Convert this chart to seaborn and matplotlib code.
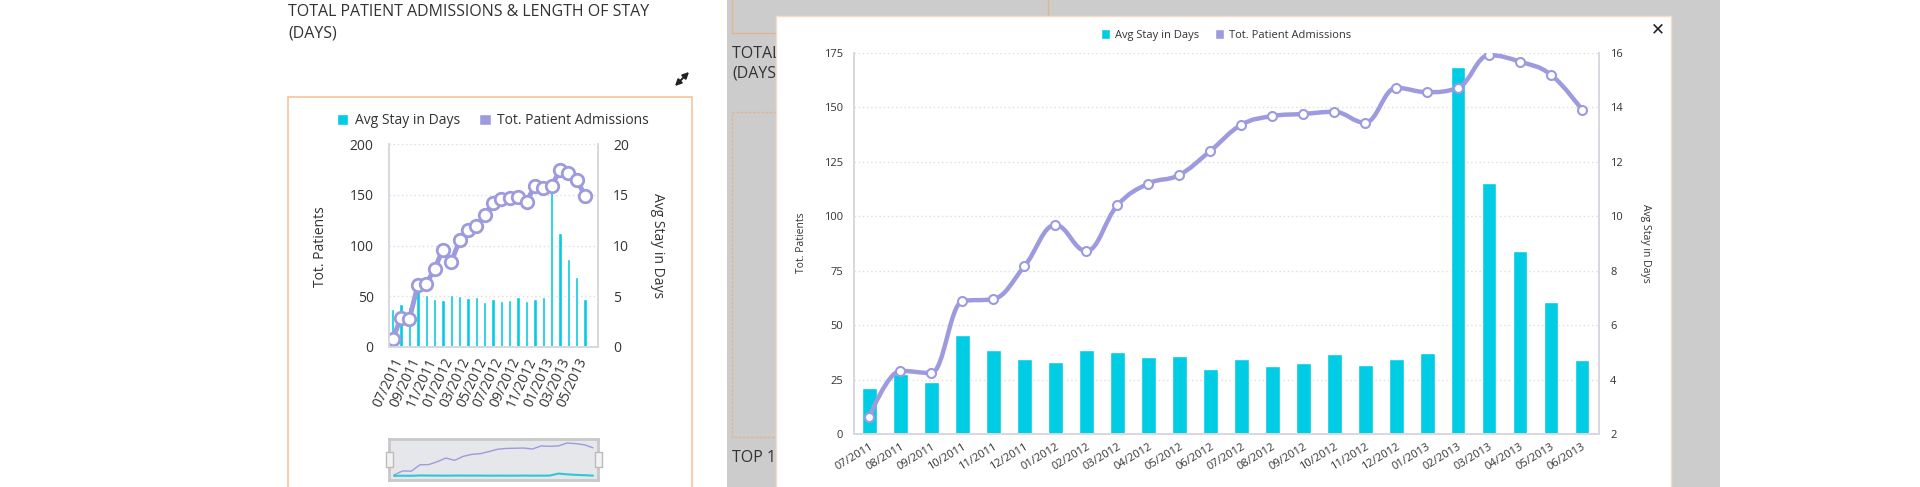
import matplotlib
matplotlib.use("Agg")
import matplotlib.pyplot as plt
import seaborn as sns
import numpy as np
from matplotlib.patches import Rectangle, Patch, PathPatch
from matplotlib.path import Path

# data
months = ["07/2011", "08/2011", "09/2011", "10/2011", "11/2011", "12/2011",
          "01/2012", "02/2012", "03/2012", "04/2012", "05/2012", "06/2012",
          "07/2012", "08/2012", "09/2012", "10/2012", "11/2012", "12/2012",
          "01/2013", "02/2013", "03/2013", "04/2013", "05/2013", "06/2013"]
admissions = [8, 29, 28, 61, 62, 77, 96, 84, 105, 115, 119, 130,
              142, 146, 147, 148, 143, 159, 157, 159, 174, 171, 165, 149]
avg_stay = [3.7, 4.2, 3.9, 5.65, 5.1, 4.75, 4.65, 5.1, 5.0, 4.83, 4.88, 4.4,
            4.77, 4.5, 4.62, 4.94, 4.53, 4.75, 4.97, 15.47, 11.22, 8.71, 6.85, 4.71]

small_left_ticks = [0, 50, 100, 150, 200]
small_right_ticks = [0, 5, 10, 15, 20]
big_left_ticks = [0, 25, 50, 75, 100, 125, 150, 175]
big_right_ticks = [2, 4, 6, 8, 10, 12, 14, 16]

CYAN = "#00cde3"
PURPLE = "#9d9bde"
TXT = "#333333"
W, H = 1920, 487

sns.set_theme(style="white")
plt.rcParams["font.family"] = ["Open Sans", "DejaVu Sans"]

fig = plt.figure(figsize=(W / 100, H / 100), dpi=100)
fig.patch.set_facecolor("white")


def rect(x0, y0, x1, y1):
    return [x0 / W, 1 - y1 / H, (x1 - x0) / W, (y1 - y0) / H]


def fx(x):
    return x / W


def fy(y):
    return 1 - y / H


def add_box(x0, y0, x1, y1, z=1, **kw):
    fig.patches.append(Rectangle((fx(x0), fy(y1)), fx(x1) - fx(x0), fy(y0) - fy(y1),
                                 transform=fig.transFigure, zorder=z, **kw))


def fig_line(xs, ys, z=1.2, **kw):
    fig.lines.append(plt.Line2D([fx(x) for x in xs], [fy(y) for y in ys],
                                transform=fig.transFigure, zorder=z, **kw))


def spline_path(xs, ys):
    # highcharts-style spline control points
    n = len(xs)
    sm, den = 1.5, 2.5
    lc = [(x, y) for x, y in zip(xs, ys)]
    rc = [(x, y) for x, y in zip(xs, ys)]
    for i in range(1, n - 1):
        px, py = xs[i], ys[i]
        lx, ly = xs[i - 1], ys[i - 1]
        nx, ny = xs[i + 1], ys[i + 1]
        lcx, lcy = (sm * px + lx) / den, (sm * py + ly) / den
        rcx, rcy = (sm * px + nx) / den, (sm * py + ny) / den
        corr = (rcy - lcy) * (rcx - px) / (rcx - lcx) + py - rcy
        lcy += corr
        rcy += corr
        if lcy > ly and lcy > py:
            lcy = max(ly, py)
            rcy = 2 * py - lcy
        elif lcy < ly and lcy < py:
            lcy = min(ly, py)
            rcy = 2 * py - lcy
        if rcy > ny and rcy > py:
            rcy = max(ny, py)
            lcy = 2 * py - rcy
        elif rcy < ny and rcy < py:
            rcy = min(ny, py)
            lcy = 2 * py - rcy
        lc[i] = (lcx, lcy)
        rc[i] = (rcx, rcy)
    verts = [(xs[0], ys[0])]
    codes = [Path.MOVETO]
    for i in range(1, n):
        verts += [rc[i - 1], lc[i], (xs[i], ys[i])]
        codes += [Path.CURVE4] * 3
    return Path(verts, codes)


pos = np.arange(len(months))

# ---------------- background page ----------------
add_box(727, 0, 1720, 487, z=0.5, facecolor="#cccccc", edgecolor="none")
TAN = "#e2b48f"
fig_line([732, 732, 776], [0, 33, 33], color=TAN, lw=1)
fig_line([1048, 1048], [0, 16], color=TAN, lw=1)
fig_line([776, 732, 732, 776], [112, 112, 437, 437], color=TAN, lw=1, ls=(0, (2, 1)))
fig.text(fx(732), fy(54), "TOTAL P", fontsize=11.5, color=TXT,
         va="center", zorder=1)
fig.text(fx(732), fy(73), "(DAYS)", fontsize=11.5, color=TXT, va="center", zorder=1)
fig.text(fx(732), fy(458), "TOP 10", fontsize=11.5, color=TXT, va="center", zorder=1)

# modal
add_box(776, 16, 1671, 500, z=2, facecolor="white", edgecolor="#f6dcc6", lw=1)
fig.text(fx(1658), fy(29), "\u2715", fontsize=12, color="#222222",
         ha="center", va="center", zorder=3, family="DejaVu Sans")

# gradient pill
pill = fig.add_axes(rect(1709, 300, 1717, 337))
pill.imshow(np.linspace(0, 1, 50).reshape(-1, 1), aspect="auto",
            cmap=matplotlib.colors.LinearSegmentedColormap.from_list(
                "pill", ["#3aa3df", "#a27fc8", "#ef7aa6", "#f9c94b"]))
pill.axis("off")

# ---------------- left panel ----------------
fig.text(fx(288), fy(12), "TOTAL PATIENT ADMISSIONS & LENGTH OF STAY",
         fontsize=11.5, color=TXT, va="center")
fig.text(fx(288), fy(34), "(DAYS)", fontsize=11.5, color=TXT, va="center")
add_box(288, 97, 692, 500, z=1, facecolor="none", edgecolor="#f8c49a", lw=1.2)
fig.patches.append(matplotlib.patches.FancyArrowPatch(
    (fx(673), fy(88)), (fx(691), fy(70)), transform=fig.transFigure,
    arrowstyle="<|-|>", mutation_scale=9, color="#222222", lw=1.4))

ax_s = fig.add_axes(rect(389, 144, 598, 347))
sns.barplot(x=pos, y=avg_stay, ax=ax_s, color=CYAN, saturation=1,
            width=0.4, errorbar=None, native_scale=True)
ax_s2 = ax_s.twinx()
sns.lineplot(x=pos, y=admissions, ax=ax_s2, color=PURPLE, lw=3.5, sort=False,
             marker="o", markersize=9, markerfacecolor="white",
             markeredgecolor=PURPLE, markeredgewidth=2)

ax_s.set_xlim(-0.45, 24.55)
ax_s.set_ylim(0, 20)
ax_s.set_yticks(small_right_ticks)
ax_s.yaxis.tick_right()
ax_s.set_xticks(pos[::2])
ax_s.set_xticklabels(months[::2], rotation=65, ha="right", rotation_mode="anchor")
ax_s.tick_params(axis="x", length=0, pad=6, labelsize=10, labelcolor=TXT)
ax_s.tick_params(axis="y", length=0, pad=11, labelsize=10, labelcolor=TXT)
ax_s.grid(axis="y", color="#dddddd", ls=(0, (1, 2)), lw=1)
ax_s.set_axisbelow(True)
ax_s.set_xlabel("")
ax_s.set_ylabel("")

ax_s2.set_ylim(0, 200)
ax_s2.set_yticks(small_left_ticks)
ax_s2.yaxis.tick_left()
ax_s2.tick_params(axis="y", length=0, pad=11, labelsize=10, labelcolor=TXT)
ax_s2.set_ylabel("")
for a in (ax_s, ax_s2):
    a.spines["top"].set_visible(False)
    for side in ("left", "right", "bottom"):
        a.spines[side].set_color("#d8d8e0")
ax_s.set_zorder(5)
ax_s2.set_zorder(6)
fig.text(fx(321), fy(247), "Tot. Patients", rotation=90, fontsize=10,
         color=TXT, ha="center", va="center")
fig.text(fx(657), fy(246), "Avg Stay in Days", rotation=-90, fontsize=10,
         color=TXT, ha="center", va="center")
fig.legend(handles=[Patch(facecolor=CYAN), Patch(facecolor=PURPLE)],
           labels=["Avg Stay in Days", "Tot. Patient Admissions"],
           loc="center", bbox_to_anchor=(fx(493), fy(121)), ncol=2, frameon=False,
           fontsize=10, handlelength=0.8, handleheight=0.9, handletextpad=0.5,
           columnspacing=1.4, labelcolor=TXT)

# navigator
nav = fig.add_axes(rect(389, 439, 598, 480))
nav.set_facecolor("#e6e7ea")
sns.lineplot(x=pos, y=admissions, ax=nav, color=PURPLE, lw=1, sort=False)
sns.lineplot(x=pos, y=avg_stay, ax=nav, color="#2cc7db", lw=1.5, sort=False)
nav.set_xlim(-0.58, 23.58)
nav.set_ylim(-18, 195)
nav.set_xticks([])
nav.set_yticks([])
nav.set_xlabel("")
nav.set_ylabel("")
for s in nav.spines.values():
    s.set_color("#c8c8c8")
    s.set_linewidth(2)
nav.set_zorder(5)
for hx in (389, 598):
    add_box(hx - 3.5, 452, hx + 3.5, 467, z=6, facecolor="#f2f2f2",
            edgecolor="#bbbbbb", lw=1)

# ---------------- modal chart ----------------
ax_b = fig.add_axes(rect(854, 53, 1599, 434))
sns.barplot(x=pos, y=avg_stay, ax=ax_b, color=CYAN, saturation=1,
            width=0.48, errorbar=None, native_scale=True)
ax_b2 = ax_b.twinx()
ax_b2.add_patch(PathPatch(spline_path(list(pos.astype(float)), admissions),
                          facecolor="none", edgecolor=PURPLE, lw=3.2,
                          capstyle="round", joinstyle="round"))
sns.scatterplot(x=pos, y=admissions, ax=ax_b2, s=42, color="white",
                edgecolor=PURPLE, linewidth=1.5, zorder=3)

ax_b.set_xlim(-0.5, 23.55)
ax_b.set_ylim(2, 16)
ax_b.set_yticks(big_right_ticks)
ax_b.yaxis.tick_right()
ax_b.set_xticks(pos)
ax_b.set_xticklabels(months, rotation=31, ha="right", rotation_mode="anchor")
ax_b.tick_params(axis="x", length=0, pad=5, labelsize=8, labelcolor=TXT)
ax_b.tick_params(axis="y", length=0, pad=8, labelsize=8, labelcolor=TXT)
ax_b.grid(axis="y", color="#dddddd", ls=(0, (1, 2)), lw=1)
ax_b.set_axisbelow(True)
ax_b.set_xlabel("")
ax_b.set_ylabel("")

ax_b2.set_ylim(0, 175)
ax_b2.set_yticks(big_left_ticks)
ax_b2.yaxis.tick_left()
ax_b2.tick_params(axis="y", length=0, pad=8, labelsize=8, labelcolor=TXT)
ax_b2.set_ylabel("")
for a in (ax_b, ax_b2):
    a.spines["top"].set_visible(False)
    for side in ("left", "right", "bottom"):
        a.spines[side].set_color("#d8d8e0")
ax_b.set_zorder(5)
ax_b2.set_zorder(6)
fig.text(fx(802), fy(243), "Tot. Patients", rotation=90, fontsize=7.5,
         color=TXT, ha="center", va="center", zorder=7)
fig.text(fx(1645), fy(243), "Avg Stay in Days", rotation=-90, fontsize=7.5,
         color=TXT, ha="center", va="center", zorder=7)
leg = fig.legend(handles=[Patch(facecolor=CYAN), Patch(facecolor=PURPLE)],
                 labels=["Avg Stay in Days", "Tot. Patient Admissions"],
                 loc="center", bbox_to_anchor=(fx(1226), fy(35)), ncol=2,
                 frameon=False, fontsize=8, handlelength=0.8, handleheight=0.9,
                 handletextpad=0.5, columnspacing=1.4, labelcolor=TXT)
leg.set_zorder(7)

fig.savefig("out.png", dpi=100)
